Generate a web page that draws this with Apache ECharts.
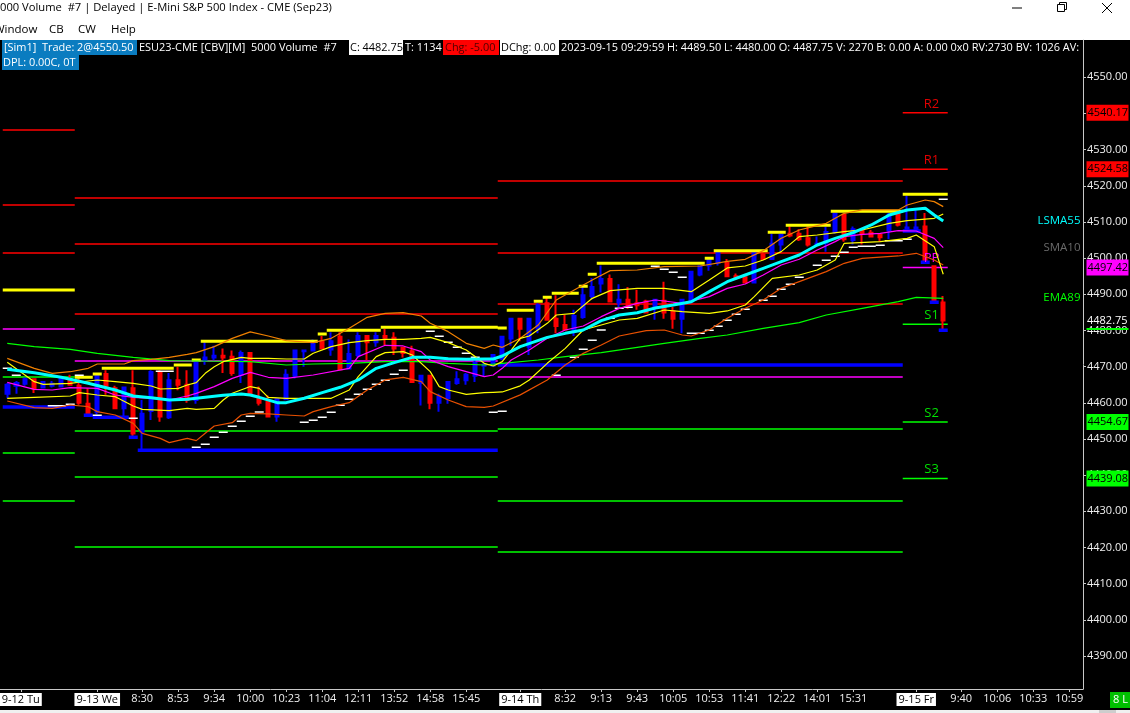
<!DOCTYPE html>
<html><head><meta charset="utf-8">
<style>html,body{margin:0;padding:0;background:#000}#c{width:1130px;height:713px}</style>
<script src="https://cdn.jsdelivr.net/npm/echarts@6/dist/echarts.min.js"></script>
</head><body><div id="c"></div>
<script>
// ---- bars (one entry per 5000-volume bar) ----
const opens=[4462.5,4464.75,4465.25,4466.5,4464.25,4464.75,4464.5,4466.5,4464.75,4459.75,4457.5,4468,4464,4458.5,4464,4452,4457.75,4468.5,4456,4466.25,4465,4460.75,4471.75,4472.5,4473,4472.75,4467.75,4473.75,
4461.25,4460.25,4456.25,4461,4467.5,4474.25,4474.5,4477,4474.75,4478.25,4469.5,4473.25,4478.5,4476.75,4478.5,4478,4475.25,4474.25,4465.5,4467.5,4460,4461.25,4465.5,4466.25,4467.5,4470.25,4470.25,
4472.25,4477.75,4483.25,4475.5,4480.5,4487.5,4483.25,4481.5,4479.75,4483.75,4489.5,4493,4494.25,4487.75,4488.5,4487.5,4488,4486.5,4488.25,4485.25,4483.25,4488,4495.5,4498,4498.75,4498.75,
4495,4494.75,4493.25,4501,4499.75,4503.75,4506.75,4506.75,4505.5,4503.75,4504.25,4507.25,4512,4505,4507.75,4507,4506.5,4507.75,4512.5,4508,4508,4508.75,4497.75,4487.75];
const closes=[4465,4465.5,4466.5,4464,4465.75,4465.25,4466.75,4465,4460,4457,4467.5,4464.75,4458.5,4464.25,4451.5,4457,4468.5,4456.25,4466.25,4465,4460.75,4471.75,4472.5,4473,4472.5,4468.25,4473.75,4462.75,
4460,4456.25,4461,4467.75,4474.5,4474.5,4476.75,4475,4477,4469.25,4473.5,4478.5,4476.75,4478.5,4478,4475,4473.75,4465.75,4467.5,4460,4461.75,4465.75,4466.5,4467.75,4471,4470.5,4473.25,
4478.25,4483.25,4480.5,4483.25,4487,4483,4481.25,4480.25,4484,4489.75,4492,4494.25,4488,4488.5,4487,4487,4485,4488.5,4485,4483.25,4488.5,4496.25,4497.75,4499.5,4501.75,4495,
4494.75,4493.25,4501.5,4499.75,4504,4506.5,4506.25,4505.25,4503.75,4504,4507.25,4512.25,4505.25,4508,4506.75,4506,4505.75,4512,4509.25,4508.5,4508.5,4499,4488.25,4482.75];
const lows=[4461.25,4462.5,4464.75,4462.75,4464,4464.25,4464.25,4464.75,4459.5,4456.25,4456.75,4462.25,4458.5,4455.75,4450.75,4447,4455.25,4454.75,4455.5,4463.5,4460,4459.75,4470.5,4471.75,4468.25,4467.5,4465.5,4462,
4459.25,4456.25,4454.75,4460.75,4466.75,4470,4474.25,4475,4473,4469.25,4469.25,4472.5,4471.75,4475.5,4476,4473.25,4472.5,4465.75,4459.25,4458.25,4457.5,4459.75,4465,4465,4465.75,4467.25,4470,
4471.75,4475.75,4477,4473.25,4479.25,4483,4479.25,4480,4478.5,4483.25,4488.5,4490.5,4488,4486.5,4486,4485.75,4484.75,4483,4483.25,4480.5,4479.25,4487.5,4495,4496.5,4498,4495,
4494,4493.25,4493.25,4499.5,4499.5,4501.75,4505.75,4504.75,4503.25,4503.25,4501.75,4506.75,4504.5,4503.75,4503.75,4505.75,4504.5,4505.25,4508.75,4507.75,4507.75,4498.75,4487.75,4480];
const highs=[4465.5,4466,4467,4466.75,4466,4466,4467.25,4467.75,4467.25,4464,4468.25,4469,4464.75,4464.5,4469,4460.75,4469,4469,4468.25,4470,4469,4472,4476.75,4475.75,4475,4474.5,4474.5,4474,
4464.5,4462,4461,4469.25,4474.75,4474.75,4477.5,4478.5,4479.5,4479.5,4477.5,4479.5,4478.75,4479.5,4480.5,4479.5,4475.25,4475.75,4467.5,4467.75,4462.5,4465.75,4468.75,4468.25,4472.25,4471,4473.25,
4478.25,4483.25,4483.5,4483.5,4487.5,4489,4489.75,4484.25,4485.75,4492,4494.5,4498,4495.5,4492.75,4492,4491.25,4488.5,4488.5,4493.5,4486.5,4488.5,4496.25,4498,4499.5,4501.75,4499.75,
4495.75,4495.25,4501.5,4502,4506.75,4506.75,4508.75,4508,4508.75,4506,4508.75,4512.5,4512.25,4508.75,4507.75,4507.75,4506.75,4512.5,4512.75,4517.25,4513.25,4512.5,4497.75,4489.5];

// ---- indicator lines: [bar, price] readings ----
const lsma55=[[0,4469.26],[3,4468.34],[6,4467.05],[9,4465.39],[12,4463.55],[14,4461.89],[16,4461.43],[18,4460.78],[20,4460.97],[22,4461.52],[24,4462.07],[26,4462.44],[27,4462.16],[28,4461.52],[30,4460.05],[31,4460.05],[33,4461.25],[35,4462.81],[37,4464.29],[39,4466.32],[41,4469.54],[43,4471.11],[45,4472.58],[47,4472.58],[49,4472.21],[51,4472.03],[53,4472.12],[54,4472.12],[55,4472.94],[57,4475.52],[60,4478.1],[62,4479.21],[64,4480.13],[66,4482.71],[68,4484.28],[70,4484.92],[72,4486.21],[74,4487.04],[76,4487.96],[78,4490.73],[80,4493.49],[82,4495.34],[84,4497.19],[86,4499.03],[88,4500.87],[90,4503.64],[92,4505.48],[94,4507.05],[96,4509.17],[98,4511.93],[100,4513.32],[102,4513.78],[103,4511.93],[104,4510.27]];
const ema89=[[0,4476.45],[3,4475.53],[7,4474.79],[10,4473.68],[14,4472.58],[18,4471.66],[21,4471.56],[27,4471.38],[31,4470.46],[34,4470.74],[38,4470.92],[42,4471.38],[46,4471.38],[49,4470.92],[53,4470.46],[55,4470.92],[59,4471.84],[62,4472.76],[66,4473.87],[70,4475.34],[73,4476.45],[77,4477.83],[80,4478.75],[84,4480.6],[88,4482.17],[91,4484.29],[95,4486.13],[99,4487.97],[101,4489.17],[104,4488.9]];
const sma10=[[0,4465.67],[3,4463.73],[5,4463.55],[7,4464.19],[10,4464.01],[12,4462.16],[14,4461.52],[16,4461.24],[18,4460.78],[20,4461.89],[21,4462.62],[23,4464.47],[25,4466.77],[27,4468.4],[29,4467.06],[31,4466.78],[34,4467.7],[38,4469.54],[39,4472.77],[42,4475.9],[44,4475.72],[46,4474.15],[47,4471.85],[49,4470],[51,4468.62],[53,4467.24],[54,4467.7],[55,4469.53],[56,4471.84],[57,4473.22],[58,4474.6],[60,4477.83],[62,4480.13],[64,4481.24],[66,4483.82],[68,4486.12],[70,4487.5],[72,4488.42],[73,4488.15],[75,4487.5],[78,4489.35],[80,4491.65],[82,4492.86],[84,4495.34],[86,4498.11],[88,4499.68],[90,4502.26],[92,4504.56],[93,4505.94],[95,4506.59],[97,4506.86],[99,4507.6],[101,4507.51],[103,4505.48],[104,4502.9]];
const yellowUpper=[[0,4471.2],[3,4465.85],[4,4465.11],[7,4465.39],[9,4466.03],[10,4466.31],[12,4465.85],[14,4465.39],[16,4464.65],[17,4463.82],[19,4464.01],[20,4464.93],[21,4465.57],[22,4468.15],[23,4470],[24,4471.38],[26,4472.58],[27,4472.3],[29,4472.3],[31,4472.12],[33,4472.12],[34,4473.69],[36,4475.53],[38,4476.64],[40,4477.19],[42,4477.56],[44,4477.56],[46,4477.84],[47,4478.11],[49,4476.64],[51,4474.61],[53,4470.92],[54,4470.19],[55,4471.38],[56,4474.6],[57,4477.83],[58,4478.47],[60,4481.97],[61,4484.28],[63,4484.74],[65,4488.89],[67,4491.01],[70,4491.65],[73,4491.65],[76,4490.73],[78,4493.96],[80,4497.3],[82,4497.83],[84,4499.49],[86,4501.8],[88,4505.94],[90,4506.4],[93,4507.33],[95,4507.79],[98,4509.63],[100,4510.37],[103,4511.01],[104,4512.21]];
const yellowLower=[[0,4461.24],[3,4461.52],[7,4461.89],[8,4462.81],[10,4462.16],[12,4461.7],[14,4459.12],[15,4458.2],[18,4457.83],[20,4458.48],[21,4458.2],[23,4458.48],[24,4460.78],[25,4462.63],[27,4464.5],[28,4464.01],[29,4461.52],[31,4461.25],[34,4461.25],[36,4461.25],[38,4463.55],[39,4467.24],[41,4472.77],[42,4473.87],[44,4474.15],[45,4473.23],[47,4468.62],[48,4464.47],[49,4463.55],[51,4462.35],[53,4462.81],[54,4462.91],[55,4463],[57,4464.7],[58,4466.31],[60,4470.92],[62,4475.06],[64,4480.13],[68,4482.9],[70,4483.36],[73,4485.66],[75,4485.2],[78,4484.74],[80,4485.4],[82,4487.05],[83,4489.35],[85,4494.42],[88,4495.34],[90,4496.73],[92,4499.49],[93,4504.1],[97,4504.56],[100,4505.48],[101,4506.4],[103,4503.18],[104,4495.53]];
const orangeUpper=[[0,4472.3],[3,4469.54],[5,4468.15],[7,4468.6],[9,4469.54],[10,4470.73],[13,4470.73],[14,4471.66],[16,4472.03],[18,4472.58],[20,4473.41],[21,4473.87],[23,4475.53],[25,4477.83],[27,4479.6],[29,4478.48],[31,4477.19],[34,4476.64],[36,4477.84],[38,4480.6],[40,4483.64],[42,4484.75],[44,4484.93],[46,4484],[47,4481.98],[49,4479.68],[51,4476.45],[53,4475.07],[54,4475.99],[55,4475.34],[57,4477.83],[59,4481.51],[61,4488.43],[63,4491.19],[65,4493.96],[67,4496.54],[70,4496.72],[73,4497.64],[77,4497.83],[80,4499.1],[82,4499.68],[84,4502.07],[86,4505.48],[88,4507.79],[91,4509.63],[93,4512.39],[95,4513.32],[99,4513.32],[100,4514.7],[102,4516.08],[103,4515.62],[104,4514.24]];
const orangeLower=[[0,4460.5],[3,4458.66],[5,4458.48],[7,4459.4],[9,4458.94],[10,4457.56],[12,4456.63],[14,4454.33],[15,4451.57],[17,4450.18],[18,4448.99],[20,4450.18],[21,4449.54],[22,4451.57],[23,4453.59],[25,4454.51],[26,4456.63],[27,4457.1],[29,4456.92],[31,4456.64],[33,4456.36],[34,4457.56],[36,4458.95],[38,4460.05],[40,4463.55],[42,4466.32],[44,4467.05],[46,4465.86],[47,4463.09],[49,4460.79],[51,4458.95],[53,4458.76],[54,4459.13],[57,4462.2],[60,4466.31],[62,4470.45],[64,4473.68],[66,4475.98],[68,4478.47],[71,4479.95],[73,4480.13],[75,4478.75],[76,4478.47],[78,4480.13],[80,4483.4],[82,4486.13],[84,4488.43],[86,4491.66],[88,4493.5],[91,4496.27],[93,4498.57],[95,4499.95],[99,4500.6],[101,4501.34],[103,4499.49],[104,4498.11]];

// ---- session levels: [fromBar, toBar, price] ----
const redLevels=[[0,8,4535.43],[0,8,4514.7],[0,8,4501.42],[8,55,4516.63],[8,55,4503.91],[8,55,4484.56],[55,100,4521.33],[55,100,4501.42],[55,100,4487.32],[100,105,4540.17],[100,105,4524.58]];
const magentaLevels=[[0,8,4480.41],[8,55,4471.57],[55,100,4467.14],[100,105,4497.42]];
const greenLevels=[[0,8,4467.14],[0,8,4446.13],[0,8,4432.86],[8,55,4452.21],[8,55,4439.49],[8,55,4420.14],[55,100,4452.77],[55,100,4432.86],[55,100,4418.76],[100,105,4481.75],[100,105,4454.67],[100,105,4439.08]];
const yellowSteps=[[0,8,4491.19],[8,10,4467.06],[10,11,4467.97],[11,19,4469.55],[19,21,4470.46],[21,22,4471.84],[22,35,4477],[35,36,4479.03],[36,42,4480.05],[42,55,4480.88],[55,56,4480.69],[56,59,4485.58],[59,60,4488.07],[60,61,4489.18],[61,64,4490.28],[64,65,4492.22],[65,66,4495.54],[66,78,4498.58],[78,79,4499.96],[79,85,4502.06],[85,87,4507.15],[87,92,4509.08],[92,100,4512.95],[100,105,4517.65]];
const blueSteps=[[0,8,4458.85],[9,10,4456.55],[10,14,4456],[14,15,4450.47],[15,55,4446.88],[55,100,4470.46],[100,102,4507.51],[102,103,4498.85],[103,104,4487.79],[104,105,4480.05]];
const whiteDashes=[[0,4469.54],[1,4467.6],[5,4459.2],[6,4459.2],[7,4459.58],[8,4467.6],[10,4456.54],[14,4455.71],[17,4468.71],[18,4468.71],[21,4447.69],[22,4448.52],[23,4450.46],[24,4451.84],[25,4453.5],[26,4454.88],[27,4456.27],[28,4457.47],[33,4454.61],[34,4455.17],[35,4456],[36,4457.38],[37,4459.31],[38,4460.97],[39,4462.35],[40,4463.74],[41,4465.12],[42,4466.22],[43,4467.88],[44,4468.99],[47,4479.77],[48,4478.39],[49,4476.73],[50,4475.35],[51,4473.69],[52,4472.58],[54,4457.38],[55,4457.65],[61,4467.6],[63,4472.57],[64,4474.79],[65,4477.27],[66,4480.13],[67,4483.36],[68,4486.12],[69,4486.4],[72,4497.73],[73,4496.9],[74,4496.08],[75,4494.69],[76,4479.21],[77,4479.21],[78,4480.04],[79,4481.15],[80,4482.8],[81,4484.47],[82,4485.85],[84,4488.34],[85,4489.45],[86,4491.38],[87,4492.76],[88,4494.7],[90,4498.02],[91,4499.4],[92,4500.5],[93,4501.61],[94,4502.99],[95,4503.27],[96,4503.27],[97,4503.55],[98,4504.84],[99,4504.84],[100,4505.2],[104,4516.26]];

// ---- axis ----
const xTickBars=[1.5,10,15,19,23,27,31,35,39,43,47,51,57,62,66,70,74,78,82,86,90,94,101,106,110,114,118];
const xTickLabels=["9-12 Tu","9-13 We","8:30","8:53","9:34","10:00","10:23","11:04","12:11","13:52","14:58","15:45","9-14 Th","8:32","9:13","9:43","10:05","10:53","11:41","12:22","14:01","15:31","9-15 Fr","9:40","10:06","10:33","10:59"];
const yTicks=[4390,4400,4410,4420,4430,4440,4450,4460,4470,4480,4490,4500,4510,4520,4530,4540,4550];
// ---- texts on the chart ----
const priceTags=[[4540.17,'#ff0000'],[4524.58,'#ff0000'],[4497.42,'#ff00ff'],[4454.67,'#00ff00'],[4439.08,'#00ff00']];
const lastPrice=4482.75, lastMarker=4480.4;
const levelTexts=[["R2",4542.6,'#e00000'],["R1",4527.1,'#e00000'],["PP",4500,'#ff00ff'],["S1",4484.3,'#00e000'],["S2",4457.2,'#00e000'],["S3",4441.7,'#00e000']];
const studyTexts=[["LSMA55",4510.4,'#00ffff'],["SMA10",4502.9,'#6a6a6a'],["EMA89",4489.05,'#00ff00']];

const FONT='"Open Sans"';
const center=b=>b+0.5;
const line=(name,pts,color,width,z)=>({name,type:'line',data:pts.map(p=>[center(p[0]),p[1]]),showSymbol:false,symbol:'none',
  lineStyle:{color,width},itemStyle:{color},z,silent:true,animation:false});
const segments=(name,segs,color,width,z)=>{const d=[];segs.forEach(s=>{d.push([s[0],s[2]],[s[1],s[2]],[s[1],null]);});
  return {name,type:'line',data:d,showSymbol:false,symbol:'none',connectNulls:false,lineStyle:{color,width,cap:'butt'},itemStyle:{color},z,silent:true,animation:false};};

const helper={name:'labels',type:'line',data:[],z:9,silent:true,animation:false,
  markLine:{silent:true,symbol:['none','none'],animation:false,lineStyle:{color:'transparent',width:0},
    data:[
     {yAxis:lastPrice,label:{show:true,position:'end',distance:4,formatter:lastPrice.toFixed(2),color:'#fff',fontFamily:FONT,fontSize:11}},
     {yAxis:lastMarker,label:{show:true,position:'end',distance:3.5,formatter:' ',fontSize:1,lineHeight:2,width:42,height:2,backgroundColor:'#00ff00'}},
     ...priceTags.map(t=>({yAxis:t[0],label:{show:true,position:'end',distance:3.5,formatter:t[0].toFixed(2),color:'#000',fontFamily:FONT,fontSize:11,backgroundColor:t[1],padding:[2,1,2,1],lineHeight:12,width:40,align:'left'}}))
    ]},
  markPoint:{silent:true,animation:false,symbol:'circle',symbolSize:0,
    data:[
     ...levelTexts.map(t=>({coord:[103.2,t[1]],label:{show:true,position:'inside',formatter:t[0],color:t[2],fontFamily:FONT,fontSize:13}})),
     ...studyTexts.map(t=>({coord:[119.75,t[1]],label:{show:true,position:'left',distance:0,formatter:t[0],color:t[2],fontFamily:FONT,fontSize:11.5}}))
    ]}
};
const dashSegs=whiteDashes.map(d=>[d[0],d[0]+1,d[1]]);
const candles=opens.map((o,i)=>[center(i),o,closes[i],lows[i],highs[i]]);

const hdr=[
 {x:2,y:40,w:135,h:15,bg:'#0a7cc0',fg:'#fff',t:'[Sim1]  Trade: 2@4550.50',tx:4},
 {x:139,t:'ESU23-CME [CBV][M]  5000 Volume  #7',fg:'#fff',y:40,h:15,tx:139},
 {x:349,y:40,w:54,h:15,bg:'#fff',fg:'#000',t:'C: 4482.75',tx:350},
 {x:404,t:'T: 1134',fg:'#fff',y:40,h:15,tx:405},
 {x:443,y:40,w:56,h:15,bg:'#ff0000',fg:'#500000',t:'Chg: -5.00',tx:445},
 {x:500,y:40,w:59,h:15,bg:'#fff',fg:'#000',t:'DChg: 0.00',tx:501},
 {x:560,t:'2023-09-15 09:29:59 H: 4489.50 L: 4480.00 O: 4487.75 V: 2270 B: 0.00 A: 0.00 0x0 RV:2730 BV: 1026 AV:',fg:'#fff',y:40,h:15,tx:561},
 {x:2,y:55,w:77,h:15,bg:'#0a7cc0',fg:'#fff',t:'DPL: 0.00C, 0T',tx:3}
];
const gfx=[
 {type:'rect',shape:{x:0,y:0,width:1130,height:40},style:{fill:'#fff'},silent:true},
 {type:'rect',shape:{x:0,y:710,width:1130,height:3},style:{fill:'#f0f0f0'},silent:true},
 {type:'rect',shape:{x:1099,y:710,width:17,height:3},style:{fill:'#cdcdcd'},silent:true},
 {type:'text',x:0,y:8,style:{text:'000 Volume  #7 | Delayed | E-Mini S&P 500 Index - CME (Sep23)',fill:'#000',font:'11.2px '+FONT,textVerticalAlign:'middle'},silent:true},
 {type:'text',x:-6,y:30,style:{text:'Window',fill:'#000',font:'11.5px '+FONT,textVerticalAlign:'middle'},silent:true},
 {type:'text',x:49,y:30,style:{text:'CB',fill:'#000',font:'11.5px '+FONT,textVerticalAlign:'middle'},silent:true},
 {type:'text',x:78,y:30,style:{text:'CW',fill:'#000',font:'11.5px '+FONT,textVerticalAlign:'middle'},silent:true},
 {type:'text',x:111,y:30,style:{text:'Help',fill:'#000',font:'11.5px '+FONT,textVerticalAlign:'middle'},silent:true},
 {type:'line',shape:{x1:1012,y1:8,x2:1022,y2:8},style:{stroke:'#000',lineWidth:1},silent:true},
 {type:'rect',shape:{x:1059.5,y:2.5,width:7,height:7},style:{fill:'none',stroke:'#000',lineWidth:1},silent:true},
 {type:'rect',shape:{x:1057.5,y:4.5,width:7,height:7},style:{fill:'#fff',stroke:'#000',lineWidth:1},silent:true},
 {type:'line',shape:{x1:1102,y1:3,x2:1112,y2:13},style:{stroke:'#000',lineWidth:1},silent:true},
 {type:'line',shape:{x1:1112,y1:3,x2:1102,y2:13},style:{stroke:'#000',lineWidth:1},silent:true},
 {type:'rect',shape:{x:1110,y:692,width:20,height:16},style:{fill:'#00c000'},silent:true},
 {type:'text',x:1113,y:700,style:{text:'8 L',fill:'#fff',font:'11px '+FONT,textVerticalAlign:'middle'},silent:true}
];
hdr.forEach(h=>{
  if(h.bg)gfx.push({type:'rect',shape:{x:h.x,y:h.y,width:h.w,height:h.h},style:{fill:h.bg},silent:true});
  gfx.push({type:'text',x:h.tx,y:h.y+7.5,style:{text:h.t,fill:h.fg,font:'10.95px '+FONT,textVerticalAlign:'middle'},silent:true});
});

const chart=echarts.init(document.getElementById('c'),null,{renderer:'canvas'});
chart.setOption({
  animation:false,backgroundColor:'#000',
  grid:{left:0,top:40,width:1083,height:649,outerBoundsMode:'none'},
  xAxis:{type:'value',min:-0.3056,max:120.03,splitLine:{show:false},
    axisLine:{show:true,onZero:false,lineStyle:{color:'#c8c8c8',width:1}},
    axisTick:{show:true,length:3,lineStyle:{color:'#c8c8c8'},customValues:xTickBars.map(center)},
    axisLabel:{color:'#f0f0f0',fontFamily:FONT,fontSize:11,margin:4,showMinLabel:true,showMaxLabel:true,hideOverlap:false,
      customValues:xTickBars.map(center),
      formatter:v=>{const k=xTickBars.findIndex(b=>Math.abs(center(b)-v)<1e-6);const t=k<0?'':xTickLabels[k];return /-/.test(t)?'{d|'+t+'}':t;},
      rich:{d:{backgroundColor:'#fff',color:'#000',fontFamily:FONT,fontSize:11,padding:[1,2,1,2]}}}},
  yAxis:{type:'value',position:'right',min:4380.88,max:4560.31,splitLine:{show:false},
    axisLine:{show:true,onZero:false,lineStyle:{color:'#c8c8c8',width:1}},
    axisTick:{show:true,length:3,lineStyle:{color:'#c8c8c8'},customValues:yTicks},
    axisLabel:{color:'#f0f0f0',fontFamily:FONT,fontSize:11,margin:4,customValues:yTicks,formatter:v=>v.toFixed(2)}},
  graphic:{elements:gfx},
  series:[
    segments('redLevels',redLevels,'#ff0000',1.5,1),
    segments('magentaLevels',magentaLevels,'#ff00ff',1.5,1),
    segments('greenLevels',greenLevels,'#00ff00',1.5,1),
    {name:'bars',type:'candlestick',data:candles,encode:{x:0,y:[1,2,3,4]},barWidth:4,animation:false,silent:true,z:2,
      itemStyle:{color:'#0000ff',borderColor:'#0000ff',color0:'#ff0000',borderColor0:'#ff0000',borderWidth:2}},
    segments('blueSteps',blueSteps,'#0000ff',3.5,3),
    segments('yellowSteps',yellowSteps,'#ffff00',3,3),
    segments('whiteDashes',dashSegs,'#ffffff',1.5,4),
    line('ema89',ema89,'#00ff00',1.2,5),
    line('orangeLower',orangeLower,'#e85000',1.2,5),
    line('orangeUpper',orangeUpper,'#f08000',1.2,5),
    line('yellowLower',yellowLower,'#ffff00',1.2,5),
    line('yellowUpper',yellowUpper,'#ffff00',1.2,5),
    line('sma10',sma10,'#ff00ff',1.2,6),
    line('lsma55',lsma55,'#00ffff',3,7),
    helper
  ]
});
</script></body></html>
